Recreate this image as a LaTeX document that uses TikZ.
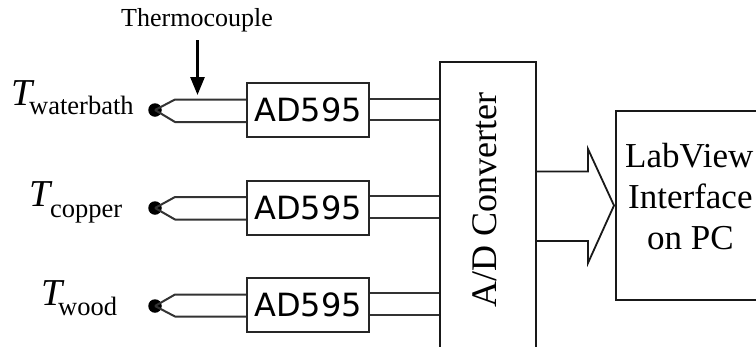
\documentclass[tikz,border=0pt]{standalone}
\usepackage{fontspec}
\setmainfont{Liberation Serif}
\newfontfamily\adfont{DejaVu Sans}
\usetikzlibrary{arrows.meta}
\tikzset{
  chipbox/.style={draw=black!85,line width=2pt,minimum width=122pt,minimum height=54pt,inner sep=0pt,font=\adfont\fontsize{32}{32}\selectfont,anchor=center},
  wire/.style={draw=black!80,line width=2pt},
  junction/.style={circle,fill=black,minimum size=13.5pt,inner sep=0pt},
  frame/.style={draw=black!90,line width=2pt},
  tsym/.style={font=\fontsize{38}{38}\selectfont\itshape,inner sep=0pt},
  tsub/.style={font=\fontsize{26.5}{27}\selectfont,inner sep=0pt,anchor=base west},
  lab/.style={font=\fontsize{35}{35}\selectfont,inner sep=0pt}
}
\begin{document}
\begin{tikzpicture}[x=1pt,y=-1pt]
\useasboundingbox (0,0) rectangle (756,346);
% thermocouple wires and outputs
\node[junction] (j1) at (155,110) {};
\node[junction] (j2) at (155,208) {};
\node[junction] (j3) at (155,306) {};
\foreach \n/\yt/\yb/\ot/\ob in {1/99.5/122/99/120,2/197/219.5/196/218,3/294.5/316.5/293/315}{
  \coordinate (tb\n) at (175,\yt);
  \coordinate (bb\n) at (175,\yb);
  \coordinate (ct\n) at (247,\yt);
  \coordinate (cb\n) at (247,\yb);
  \coordinate (ot\n) at (369,\ot);
  \coordinate (ob\n) at (369,\ob);
  \coordinate (at\n) at (440,\ot);
  \coordinate (ab\n) at (440,\ob);
  \draw[wire,line join=round] (j\n.center) -- (tb\n) -- (ct\n);
  \draw[wire,line join=round] (j\n.center) -- (bb\n) -- (cb\n);
  \draw[wire] (ot\n) -- (at\n);
  \draw[wire] (ob\n) -- (ab\n);
}
% chips
\node[chipbox] (c1) at (308,110) {AD595};
\node[chipbox] (c2) at (308,207.5) {AD595};
\node[chipbox] (c3) at (308,305) {AD595};
% A/D converter (runs off the bottom edge)
\coordinate (adbl) at (440,348);
\coordinate (adtl) at (440,61.5);
\coordinate (adtr) at (536,61.5);
\coordinate (adbr) at (536,348);
\draw[frame,line join=miter] (adbl) -- (adtl) -- (adtr) -- (adbr);
\node[lab,font=\fontsize{36}{36}\selectfont,rotate=90,anchor=base] (adlabel) at (496,200) {A/D Converter};
% PC box (runs off the right edge)
\coordinate (pctr) at (758,111);
\coordinate (pctl) at (615.5,111);
\coordinate (pcbl) at (615.5,300);
\coordinate (pcbr) at (758,300);
\draw[frame] (pctr) -- (pctl) -- (pcbl) -- (pcbr);
\node[lab,anchor=base west] (pc1) at (625,167) {LabView};
\node[lab,anchor=base west] (pc2) at (628,208) {Interface};
\node[lab,anchor=base west] (pc3) at (647,249) {on PC};
% block arrow
\coordinate (ba1) at (536,171.5);
\coordinate (ba2) at (588,171.5);
\coordinate (ba3) at (588,149);
\coordinate (ba4) at (614,205.5);
\coordinate (ba5) at (588,263);
\coordinate (ba6) at (588,241);
\coordinate (ba7) at (536,241);
\draw[frame,line join=miter,line width=1.8pt] (ba1) -- (ba2) -- (ba3) -- (ba4) -- (ba5) -- (ba6) -- (ba7);
% labels
\node[font=\fontsize{26}{26}\selectfont,inner sep=0pt,anchor=base] (tc) at (197,26) {Thermocouple};
\coordinate (tca) at (197.5,40);
\coordinate (tcb) at (197.5,95);
\draw[line width=2.8pt,-{Triangle[length=18pt,width=14pt]}] (tca) -- (tcb);
\node[tsym,anchor=base west] (t1) at (11,105) {T};
\node[tsub] (s1) at (29,114) {waterbath};
\node[tsym,anchor=base west] (t2) at (29,206) {T};
\node[tsub] (s2) at (50,217) {copper};
\node[tsym,anchor=base west] (t3) at (41,305) {T};
\node[tsub] (s3) at (58,315) {wood};
\end{tikzpicture}
\end{document}
